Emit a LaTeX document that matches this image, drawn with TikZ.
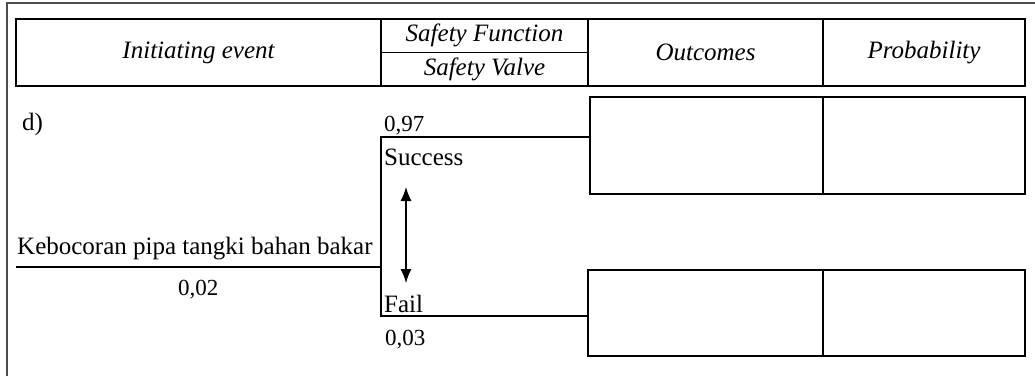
\documentclass[tikz,border=0pt]{standalone}
\usepackage{fontspec}
\setmainfont{Liberation Serif}
\usetikzlibrary{arrows.meta}
\begin{document}
\begin{tikzpicture}[x=1pt,y=-1pt,
  cell/.style={draw, line width=1.2pt, inner sep=0pt, font=\fontsize{25}{29}\selectfont\itshape},
  box/.style={draw, line width=1.2pt, inner sep=0pt},
  lbl/.style={inner sep=0pt, anchor=base west, font=\fontsize{25}{29}\selectfont},
  num/.style={inner sep=0pt, anchor=base west, font=\fontsize{23}{27}\selectfont},
  branch/.style={line width=1.2pt},
  frame/.style={line width=1.2pt, draw=black!70}]
\useasboundingbox (0,0) rectangle (1035,376);
% outer frame
\coordinate (fbl) at (7,376);
\coordinate (ftl) at (7,3);
\coordinate (ftr) at (1035,3);
\draw[frame] (fbl) -- (ftl) -- (ftr);
% header
\node[cell, minimum width=365, minimum height=67] (h1) at (198.5,52.5) {Initiating event};
\node[cell, minimum width=207, minimum height=33.5] (h2a) at (484.5,35.75) {Safety Function};
\node[cell, minimum width=207, minimum height=33.5] (h2b) at (484.5,69.25) {Safety Valve};
\node[cell, minimum width=235, minimum height=67] (h3) at (705.5,52.5) {Outcomes};
\node[cell, minimum width=202, minimum height=67] (h4) at (924,52.5) {Probability};
% outcome boxes
\node[box, minimum width=233, minimum height=97] (o1) at (706.5,145.5) {};
\node[box, minimum width=202, minimum height=97] (p1) at (924,145.5) {};
\node[box, minimum width=235, minimum height=86] (o2) at (705.5,313) {};
\node[box, minimum width=202, minimum height=86] (p2) at (924,313) {};
% tree
\coordinate (start) at (16,267);
\coordinate (jn) at (381,267);
\coordinate (jtop) at (381,137);
\coordinate (jbot) at (381,316);
\draw[branch] (start) -- (jn);
\draw[branch] (jtop -| o1.west) -- (jtop) -- (jbot) -- (jbot -| o2.west);
% labels
\node[lbl] (d) at (22,130) {d)};
\node[num] (p97) at (384,131) {0,97};
\node[lbl] (succ) at (384,165) {Success};
\node[lbl] (ev) at (17,254) {Kebocoran pipa tangki bahan bakar};
\node[num] (p02) at (178,295) {0,02};
\node[lbl] (fail) at (384,312) {Fail};
\node[num] (p03) at (385,345) {0,03};
% double arrow
\coordinate (at) at (406,187);
\coordinate (ab) at (406,283);
\draw[line width=1.2pt, {Latex[length=14pt,width=11pt]}-{Latex[length=14pt,width=11pt]}] (at) -- (ab);
\end{tikzpicture}
\end{document}
